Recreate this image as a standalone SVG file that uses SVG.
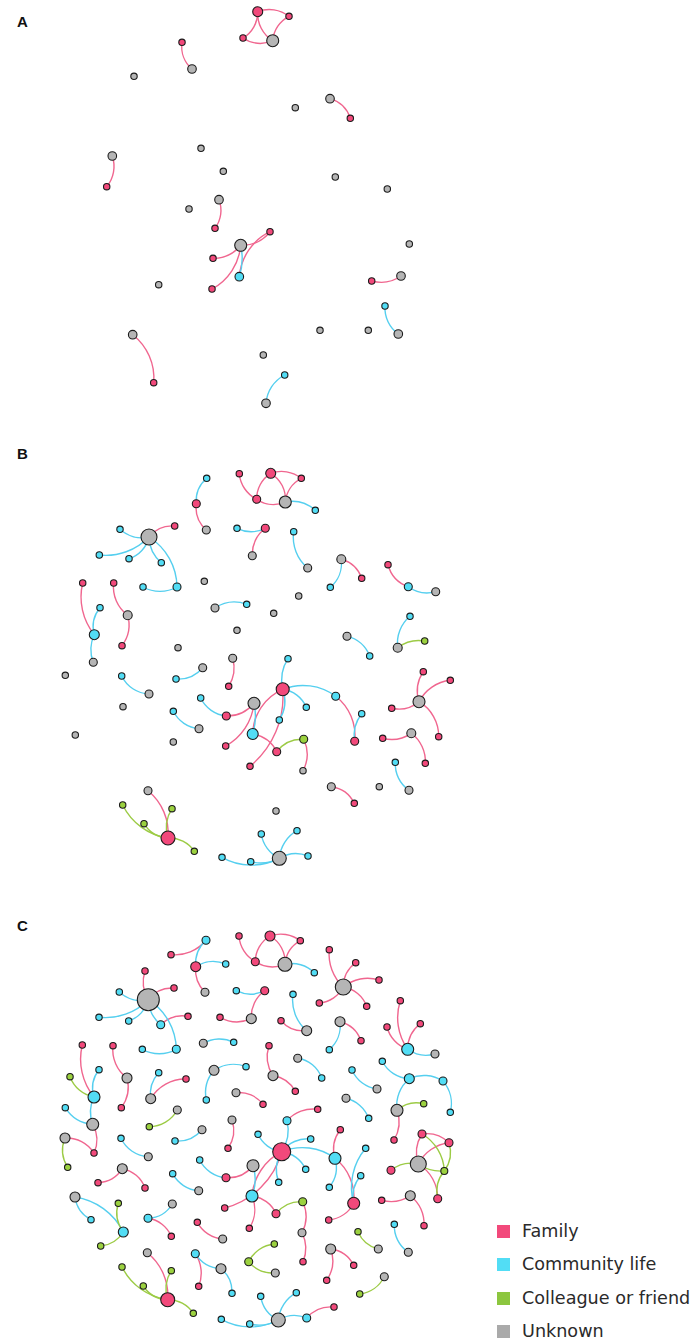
<svg xmlns="http://www.w3.org/2000/svg" width="692" height="1339" viewBox="0 0 692 1339">
<style>
.n{stroke:#1b1b1b;stroke-width:1.1}
.f{fill:#F2497B}.c{fill:#52DDF5}.g{fill:#9BD13F}.u{fill:#B5B5B5}
#edges path{fill:none;stroke-width:1.4}
.ef path{stroke:#F0668F}.ec path{stroke:#55CFEF}.eg path{stroke:#9CCB45}
.lab{font-family:"Liberation Sans",Arial,sans-serif;font-weight:bold;font-size:15px;fill:#111}
.lt{font-family:"DejaVu Sans","Liberation Sans",sans-serif;font-size:17.6px;fill:#2a2a2a}
</style>
<rect width="692" height="1339" fill="#fff"/>
<text class="lab" x="17" y="27">A</text>
<text class="lab" x="17" y="459">B</text>
<text class="lab" x="17" y="931">C</text>
<g id="edges">
<g class="ef">
<path d="M257.7 11.7A32 32 0 0 1 289 16.3"/>
<path d="M289 16.3A30 30 0 0 0 272.7 40.7"/>
<path d="M257.7 11.7A30 30 0 0 1 243 38"/>
<path d="M257.7 11.7A32 32 0 0 0 272.7 40.7"/>
<path d="M243 38A30 30 0 0 0 272.7 40.7"/>
<path d="M182 42.3A30 30 0 0 0 192 69"/>
<path d="M330 98.7A30 30 0 0 1 350.3 118.3"/>
<path d="M112.3 156A32 32 0 0 1 106.7 186.7"/>
<path d="M219 199.7A30 30 0 0 1 215 228.3"/>
<path d="M240.7 245.3A35 35 0 0 0 270 231.7"/>
<path d="M240.7 245.3A35 35 0 0 1 213 258.3"/>
<path d="M270 231.7A55 55 0 0 0 239.3 276.7"/>
<path d="M240.7 245.3A55 55 0 0 1 212 289"/>
<path d="M401 276A35 35 0 0 1 371.7 281"/>
<path d="M132.7 334.7A55 55 0 0 1 153.7 382.7"/>
<path d="M196.3 503.7A30 30 0 0 0 206.3 530"/>
<path d="M239.3 473.7A32 32 0 0 0 256.7 499.3"/>
<path d="M270.7 473.3A32 32 0 0 1 301.3 478.3"/>
<path d="M270.7 473.3A30 30 0 0 0 256.7 499.3"/>
<path d="M270.7 473.3A30 30 0 0 1 285.3 502"/>
<path d="M256.7 499.3A30 30 0 0 0 285.3 502"/>
<path d="M301.3 478.3A30 30 0 0 0 285.3 502"/>
<path d="M265.3 528.3A32 32 0 0 0 252.3 555.7"/>
<path d="M149 537A30 30 0 0 1 174.7 526"/>
<path d="M82.7 583A60 60 0 0 0 94.3 634.7"/>
<path d="M113.7 583A35 35 0 0 0 127.7 615.3"/>
<path d="M127.7 615.3A35 35 0 0 1 122 645.7"/>
<path d="M232.7 658.3A35 35 0 0 1 228.7 686.3"/>
<path d="M341.3 559.3A30 30 0 0 1 361.7 578.3"/>
<path d="M388 564.7A32 32 0 0 0 408.3 586.7"/>
<path d="M226.3 716A35 35 0 0 0 254 703.3"/>
<path d="M254 703.3A55 55 0 0 1 225.7 746"/>
<path d="M282.7 689.3A90 90 0 0 1 250 766.3"/>
<path d="M282.7 689.3A50 50 0 0 0 252.7 734"/>
<path d="M335.7 696.3A50 50 0 0 1 354.7 741.3"/>
<path d="M252.7 734A32 32 0 0 1 276.7 751.7"/>
<path d="M303.7 739.3A35 35 0 0 1 303 770.7"/>
<path d="M419 701.7A35 35 0 0 1 423.3 671.7"/>
<path d="M419 701.7A40 40 0 0 1 450.3 680.3"/>
<path d="M419 701.7A32 32 0 0 1 391.7 708.3"/>
<path d="M419 701.7A40 40 0 0 1 438.7 736.7"/>
<path d="M411.3 733.3A35 35 0 0 1 382.7 738.3"/>
<path d="M411.3 733.3A35 35 0 0 1 425.3 763.3"/>
<path d="M331.3 786.7A30 30 0 0 1 354.3 803.3"/>
<path d="M148 790.7A55 55 0 0 1 168 838"/>
<path d="M171 954.7A40 40 0 0 0 206 940.3"/>
<path d="M195.7 966.7A32 32 0 0 0 205 992.3"/>
<path d="M148.3 999.7A35 35 0 0 1 145 971"/>
<path d="M148.3 999.7A30 30 0 0 1 174 988"/>
<path d="M160.7 1024.7A32 32 0 0 1 188 1016.3"/>
<path d="M82.3 1045A60 60 0 0 0 94 1097"/>
<path d="M113 1045.7A35 35 0 0 0 127 1078"/>
<path d="M127 1078A35 35 0 0 1 121.3 1107.7"/>
<path d="M150.7 1098.7A40 40 0 0 1 186 1079"/>
<path d="M239 936A32 32 0 0 0 255.3 961.7"/>
<path d="M270 936A32 32 0 0 1 300.3 940.7"/>
<path d="M270 936A30 30 0 0 0 255.3 961.7"/>
<path d="M270 936A30 30 0 0 1 285 964.3"/>
<path d="M300.3 940.7A30 30 0 0 0 285 964.3"/>
<path d="M255.3 961.7A32 32 0 0 0 285 964.3"/>
<path d="M264.7 990.7A32 32 0 0 0 251.3 1018.7"/>
<path d="M220 1017.3A35 35 0 0 0 251.3 1018.7"/>
<path d="M281 1020.7A30 30 0 0 0 306.7 1030.7"/>
<path d="M343.3 987A45 45 0 0 1 329.3 949.7"/>
<path d="M343.3 987A30 30 0 0 1 355.7 962.7"/>
<path d="M343.3 987A38 38 0 0 1 379 980"/>
<path d="M343.3 987A30 30 0 0 1 366.7 1006.3"/>
<path d="M343.3 987A30 30 0 0 1 319.3 1003"/>
<path d="M269 1045.7A35 35 0 0 0 273 1075.7"/>
<path d="M273 1075.7A30 30 0 0 1 295.3 1091.3"/>
<path d="M236 1092.7A30 30 0 0 1 263 1104.3"/>
<path d="M287 1120.7A35 35 0 0 1 317.7 1109.3"/>
<path d="M340 1021.7A30 30 0 0 1 361 1040.7"/>
<path d="M400.3 1000.7A55 55 0 0 0 407.7 1049.3"/>
<path d="M387 1027A32 32 0 0 0 407.7 1049.3"/>
<path d="M420.3 1023.7A32 32 0 0 0 407.7 1049.3"/>
<path d="M397 1110.3A35 35 0 0 1 394 1140"/>
<path d="M65 1138A32 32 0 0 1 94 1153"/>
<path d="M92.7 1124.3A32 32 0 0 1 94 1153"/>
<path d="M122.3 1168.7A30 30 0 0 1 98 1182.7"/>
<path d="M122.3 1168.7A30 30 0 0 1 145 1188"/>
<path d="M148 1218.3A30 30 0 0 1 171.3 1236.3"/>
<path d="M147.3 1252.7A55 55 0 0 1 167.7 1299.7"/>
<path d="M232 1120A32 32 0 0 1 228 1148.3"/>
<path d="M226 1177.7A32 32 0 0 0 253 1165.7"/>
<path d="M281.7 1151.7A80 80 0 0 1 224.7 1208"/>
<path d="M281.7 1151.7A55 55 0 0 0 252 1196"/>
<path d="M252 1196A35 35 0 0 1 249.3 1228.3"/>
<path d="M252 1196A30 30 0 0 1 276 1213.7"/>
<path d="M302.7 1201.7A35 35 0 0 1 302 1232.7"/>
<path d="M302 1232.7A35 35 0 0 1 303 1261.7"/>
<path d="M197.3 1222.3A32 32 0 0 0 222.7 1239"/>
<path d="M195.3 1253.7A35 35 0 0 1 198.7 1286.3"/>
<path d="M306.7 1318A32 32 0 0 1 334 1307"/>
<path d="M340.3 1129.7A32 32 0 0 0 335 1158.3"/>
<path d="M335 1158.3A50 50 0 0 1 353.7 1203.3"/>
<path d="M353.7 1203.3A32 32 0 0 1 328.7 1220"/>
<path d="M422 1134A35 35 0 0 0 418.3 1164"/>
<path d="M422 1134A32 32 0 0 1 449 1142.7"/>
<path d="M449 1142.7A40 40 0 0 0 418.3 1164"/>
<path d="M418.3 1164A40 40 0 0 1 437.7 1198.7"/>
<path d="M410.3 1195.7A35 35 0 0 1 381.7 1200.3"/>
<path d="M410.3 1195.7A35 35 0 0 1 424 1225.7"/>
<path d="M330.7 1249A30 30 0 0 1 353.7 1265.3"/>
<path d="M330.7 1249A35 35 0 0 1 326.7 1280.3"/>
</g>
<g class="ec">
<path d="M240.7 245.3A60 60 0 0 1 239.3 276.7"/>
<path d="M385 306A32 32 0 0 0 398.3 334"/>
<path d="M284.7 375A35 35 0 0 0 266 403.3"/>
<path d="M206.7 478.3A30 30 0 0 0 196.3 503.7"/>
<path d="M285.3 502A35 35 0 0 1 315.3 510.3"/>
<path d="M237 528.3A32 32 0 0 0 265.3 528.3"/>
<path d="M149 537A32 32 0 0 1 120 529.3"/>
<path d="M149 537A60 60 0 0 1 99.3 555"/>
<path d="M149 537A30 30 0 0 1 129 558.7"/>
<path d="M149 537A35 35 0 0 0 161.3 562.7"/>
<path d="M149 537A60 60 0 0 1 177 587"/>
<path d="M143 587A35 35 0 0 0 177 587"/>
<path d="M100 607.7A30 30 0 0 0 94.3 634.7"/>
<path d="M94.3 634.7A35 35 0 0 0 93.3 662.3"/>
<path d="M215 608A35 35 0 0 1 246.7 604.3"/>
<path d="M293.7 531.7A40 40 0 0 0 307.7 568"/>
<path d="M341.3 559.3A32 32 0 0 1 330.3 587.3"/>
<path d="M408.3 586.7A32 32 0 0 0 435.7 591.7"/>
<path d="M347 636.3A32 32 0 0 1 369.7 656"/>
<path d="M410 616.3A35 35 0 0 0 397.7 647.7"/>
<path d="M288 658.7A40 40 0 0 0 282.7 689.3"/>
<path d="M121.7 676A32 32 0 0 0 149 694"/>
<path d="M202.7 667.7A32 32 0 0 1 176 679"/>
<path d="M200.7 698A32 32 0 0 0 226.3 716"/>
<path d="M173.3 711.3A32 32 0 0 0 199 728.7"/>
<path d="M254 703.3A60 60 0 0 1 252.7 734"/>
<path d="M282.7 689.3A55 55 0 0 1 335.7 696.3"/>
<path d="M282.7 689.3A30 30 0 0 1 306.3 707.3"/>
<path d="M282.7 689.3A35 35 0 0 1 279.3 720"/>
<path d="M361.7 713.7A35 35 0 0 0 354.7 741.3"/>
<path d="M395.3 762.3A32 32 0 0 0 409 790.3"/>
<path d="M261.3 834A32 32 0 0 0 279.3 858.3"/>
<path d="M297 830.7A35 35 0 0 0 279.3 858.3"/>
<path d="M279.3 858.3A32 32 0 0 1 308 856"/>
<path d="M222 857.3A60 60 0 0 0 279.3 858.3"/>
<path d="M250.7 861.7A40 40 0 0 0 279.3 858.3"/>
<path d="M206 940.3A32 32 0 0 0 195.7 966.7"/>
<path d="M195.7 966.7A32 32 0 0 1 225.7 964"/>
<path d="M148.3 999.7A32 32 0 0 1 119.3 992"/>
<path d="M148.3 999.7A60 60 0 0 1 99 1017.3"/>
<path d="M148.3 999.7A30 30 0 0 1 128.7 1021"/>
<path d="M148.3 999.7A35 35 0 0 0 160.7 1024.7"/>
<path d="M148.3 999.7A60 60 0 0 1 176.3 1049.3"/>
<path d="M142.3 1049.3A35 35 0 0 0 176.3 1049.3"/>
<path d="M99 1069.7A30 30 0 0 0 94 1097"/>
<path d="M94 1097A35 35 0 0 0 92.7 1124.3"/>
<path d="M65.3 1107.7A35 35 0 0 0 92.7 1124.3"/>
<path d="M158.7 1072.7A32 32 0 0 0 150.7 1098.7"/>
<path d="M285 964.3A32 32 0 0 1 314.3 972.7"/>
<path d="M236.3 990.7A32 32 0 0 0 264.7 990.7"/>
<path d="M293 994.3A40 40 0 0 0 306.7 1030.7"/>
<path d="M203.3 1043.3A32 32 0 0 1 233.7 1042.3"/>
<path d="M297.7 1058.3A30 30 0 0 1 321.7 1078"/>
<path d="M214 1070.3A35 35 0 0 1 246 1066.7"/>
<path d="M214 1070.3A35 35 0 0 0 206.3 1100"/>
<path d="M340 1021.7A32 32 0 0 1 329.3 1049.7"/>
<path d="M407.7 1049.3A32 32 0 0 0 435 1054"/>
<path d="M382.3 1061.3A32 32 0 0 0 409.3 1078.7"/>
<path d="M409.3 1078.7A35 35 0 0 1 443 1081"/>
<path d="M443 1081A35 35 0 0 1 450.3 1112.3"/>
<path d="M409.3 1078.7A35 35 0 0 0 397 1110.3"/>
<path d="M352 1070A32 32 0 0 0 377 1089"/>
<path d="M346 1098.3A32 32 0 0 1 368.7 1118.3"/>
<path d="M121 1138.3A32 32 0 0 0 148.3 1156.7"/>
<path d="M175 1141A32 32 0 0 0 202 1129.7"/>
<path d="M172.7 1173.7A32 32 0 0 0 198.7 1190.7"/>
<path d="M75 1197A30 30 0 0 0 91 1219.7"/>
<path d="M75 1197A65 65 0 0 1 123.3 1232"/>
<path d="M172.3 1204A30 30 0 0 1 148 1218.3"/>
<path d="M258 1134.3A30 30 0 0 0 281.7 1151.7"/>
<path d="M310.7 1139A32 32 0 0 0 281.7 1151.7"/>
<path d="M305.7 1169.3A30 30 0 0 0 281.7 1151.7"/>
<path d="M278.7 1182.3A35 35 0 0 1 281.7 1151.7"/>
<path d="M287 1120.7A40 40 0 0 1 281.7 1151.7"/>
<path d="M281.7 1151.7A55 55 0 0 1 335 1158.3"/>
<path d="M199.7 1160A32 32 0 0 0 226 1177.7"/>
<path d="M253 1165.7A45 45 0 0 1 252 1196"/>
<path d="M195.3 1253.7A32 32 0 0 0 221 1268.7"/>
<path d="M221 1268.7A30 30 0 0 1 232 1293.3"/>
<path d="M260.7 1296.3A32 32 0 0 0 278.3 1320"/>
<path d="M296.3 1292.7A35 35 0 0 0 278.3 1320"/>
<path d="M278.3 1320A32 32 0 0 1 306.7 1318"/>
<path d="M221.3 1319.3A60 60 0 0 0 278.3 1320"/>
<path d="M249.7 1324A40 40 0 0 0 278.3 1320"/>
<path d="M365.7 1148.3A60 60 0 0 0 353.7 1203.3"/>
<path d="M360.7 1175.7A32 32 0 0 0 353.7 1203.3"/>
<path d="M329.3 1187.3A32 32 0 0 0 335 1158.3"/>
<path d="M394.3 1224.3A32 32 0 0 0 408.3 1252.3"/>
</g>
<g class="eg">
<path d="M397.7 647.7A35 35 0 0 1 424.7 641"/>
<path d="M276.7 751.7A32 32 0 0 1 303.7 739.3"/>
<path d="M122.7 805A60 60 0 0 0 168 838"/>
<path d="M172 808.7A35 35 0 0 0 168 838"/>
<path d="M144 823.7A30 30 0 0 0 168 838"/>
<path d="M168 838A30 30 0 0 1 194.3 851.3"/>
<path d="M70 1076.7A32 32 0 0 0 94 1097"/>
<path d="M177.3 1110A32 32 0 0 1 149.3 1126.7"/>
<path d="M397 1110.3A30 30 0 0 1 423.7 1103.7"/>
<path d="M65 1138A32 32 0 0 0 67.7 1167.3"/>
<path d="M118.3 1203.3A32 32 0 0 0 123.3 1232"/>
<path d="M123.3 1232A30 30 0 0 1 100.7 1246"/>
<path d="M122 1267A60 60 0 0 0 167.7 1299.7"/>
<path d="M171.3 1270.7A35 35 0 0 0 167.7 1299.7"/>
<path d="M143.3 1286A30 30 0 0 0 167.7 1299.7"/>
<path d="M167.7 1299.7A30 30 0 0 1 193.3 1313.3"/>
<path d="M276 1213.7A32 32 0 0 1 302.7 1201.7"/>
<path d="M274.3 1244A32 32 0 0 0 248.7 1261.7"/>
<path d="M248.7 1261.7A32 32 0 0 0 275.3 1273"/>
<path d="M418.3 1164A32 32 0 0 0 391 1170.3"/>
<path d="M418.3 1164A40 40 0 0 0 444.3 1171"/>
<path d="M422 1134A45 45 0 0 1 444.3 1171"/>
<path d="M449 1142.7A32 32 0 0 1 444.3 1171"/>
<path d="M444.3 1171A32 32 0 0 0 437.7 1198.7"/>
<path d="M358 1231.7A30 30 0 0 0 378.3 1249"/>
<path d="M384.3 1276.7A32 32 0 0 1 359.7 1294"/>
</g>
</g>
<g id="nodesA">
<g id="a1"><circle class="n f" cx="257.7" cy="11.7" r="5"/></g>
<g id="a2"><circle class="n f" cx="289" cy="16.3" r="3.2"/></g>
<g id="a3"><circle class="n f" cx="243" cy="38" r="3.2"/></g>
<g id="a4"><circle class="n u" cx="272.7" cy="40.7" r="6"/></g>
<g id="a5"><circle class="n f" cx="182" cy="42.3" r="3.2"/></g>
<g id="a6"><circle class="n u" cx="192" cy="69" r="4.3"/></g>
<g id="a7"><circle class="n u" cx="134" cy="76.3" r="3.2"/></g>
<g id="a8"><circle class="n u" cx="330" cy="98.7" r="4.3"/></g>
<g id="a9"><circle class="n f" cx="350.3" cy="118.3" r="3.2"/></g>
<g id="a10"><circle class="n u" cx="295.3" cy="107.7" r="3.2"/></g>
<g id="a11"><circle class="n u" cx="112.3" cy="156" r="4.3"/></g>
<g id="a12"><circle class="n f" cx="106.7" cy="186.7" r="3.2"/></g>
<g id="a13"><circle class="n u" cx="201" cy="148.3" r="3.2"/></g>
<g id="a14"><circle class="n u" cx="223.3" cy="171.3" r="3.2"/></g>
<g id="a15"><circle class="n u" cx="335.3" cy="177" r="3.2"/></g>
<g id="a16"><circle class="n u" cx="387.3" cy="189" r="3.2"/></g>
<g id="a17"><circle class="n u" cx="219" cy="199.7" r="4.3"/></g>
<g id="a18"><circle class="n f" cx="215" cy="228.3" r="3.2"/></g>
<g id="a19"><circle class="n u" cx="189" cy="209" r="3.2"/></g>
<g id="a20"><circle class="n u" cx="240.7" cy="245.3" r="6"/></g>
<g id="a21"><circle class="n f" cx="270" cy="231.7" r="3.2"/></g>
<g id="a22"><circle class="n f" cx="213" cy="258.3" r="3.2"/></g>
<g id="a23"><circle class="n c" cx="239.3" cy="276.7" r="4.3"/></g>
<g id="a24"><circle class="n f" cx="212" cy="289" r="3.2"/></g>
<g id="a25"><circle class="n u" cx="158.7" cy="284.7" r="3.2"/></g>
<g id="a26"><circle class="n u" cx="409.3" cy="244" r="3.2"/></g>
<g id="a27"><circle class="n f" cx="371.7" cy="281" r="3.2"/></g>
<g id="a28"><circle class="n u" cx="401" cy="276" r="4.3"/></g>
<g id="a29"><circle class="n c" cx="385" cy="306" r="3.2"/></g>
<g id="a30"><circle class="n u" cx="398.3" cy="334" r="4.3"/></g>
<g id="a31"><circle class="n u" cx="320" cy="330.3" r="3.2"/></g>
<g id="a32"><circle class="n u" cx="368.3" cy="330.3" r="3.2"/></g>
<g id="a33"><circle class="n u" cx="132.7" cy="334.7" r="4.3"/></g>
<g id="a34"><circle class="n f" cx="153.7" cy="382.7" r="3.2"/></g>
<g id="a35"><circle class="n u" cx="263.3" cy="355" r="3.2"/></g>
<g id="a36"><circle class="n c" cx="284.7" cy="375" r="3.2"/></g>
<g id="a37"><circle class="n u" cx="266" cy="403.3" r="4.3"/></g>
</g>
<g id="nodesB">
<g id="b1"><circle class="n c" cx="206.7" cy="478.3" r="3.2"/></g>
<g id="b2"><circle class="n f" cx="196.3" cy="503.7" r="4"/></g>
<g id="b3"><circle class="n u" cx="206.3" cy="530" r="4"/></g>
<g id="b4"><circle class="n f" cx="239.3" cy="473.7" r="3.2"/></g>
<g id="b5"><circle class="n f" cx="270.7" cy="473.3" r="5"/></g>
<g id="b6"><circle class="n f" cx="301.3" cy="478.3" r="3.2"/></g>
<g id="b7"><circle class="n f" cx="256.7" cy="499.3" r="4"/></g>
<g id="b8"><circle class="n u" cx="285.3" cy="502" r="6"/></g>
<g id="b9"><circle class="n c" cx="315.3" cy="510.3" r="3.2"/></g>
<g id="b10"><circle class="n c" cx="237" cy="528.3" r="3.2"/></g>
<g id="b11"><circle class="n f" cx="265.3" cy="528.3" r="4"/></g>
<g id="b12"><circle class="n u" cx="252.3" cy="555.7" r="4"/></g>
<g id="b13"><circle class="n u" cx="149" cy="537" r="8"/></g>
<g id="b14"><circle class="n f" cx="174.7" cy="526" r="3.2"/></g>
<g id="b15"><circle class="n c" cx="120" cy="529.3" r="3.2"/></g>
<g id="b16"><circle class="n c" cx="99.3" cy="555" r="3.2"/></g>
<g id="b17"><circle class="n c" cx="129" cy="558.7" r="3.2"/></g>
<g id="b18"><circle class="n c" cx="161.3" cy="562.7" r="3.2"/></g>
<g id="b19"><circle class="n c" cx="177" cy="587" r="4"/></g>
<g id="b20"><circle class="n c" cx="143" cy="587" r="3.2"/></g>
<g id="b21"><circle class="n f" cx="82.7" cy="583" r="3.2"/></g>
<g id="b22"><circle class="n c" cx="100" cy="607.7" r="3.2"/></g>
<g id="b23"><circle class="n c" cx="94.3" cy="634.7" r="5"/></g>
<g id="b24"><circle class="n u" cx="93.3" cy="662.3" r="4"/></g>
<g id="b25"><circle class="n f" cx="113.7" cy="583" r="3.2"/></g>
<g id="b26"><circle class="n u" cx="127.7" cy="615.3" r="4.5"/></g>
<g id="b27"><circle class="n f" cx="122" cy="645.7" r="3.2"/></g>
<g id="b28"><circle class="n u" cx="204.3" cy="581.3" r="3.2"/></g>
<g id="b29"><circle class="n u" cx="215" cy="608" r="4"/></g>
<g id="b30"><circle class="n c" cx="246.7" cy="604.3" r="3.2"/></g>
<g id="b31"><circle class="n u" cx="237" cy="630.3" r="3.2"/></g>
<g id="b32"><circle class="n u" cx="178" cy="647.7" r="3.2"/></g>
<g id="b33"><circle class="n u" cx="232.7" cy="658.3" r="4"/></g>
<g id="b34"><circle class="n f" cx="228.7" cy="686.3" r="3.2"/></g>
<g id="b35"><circle class="n c" cx="293.7" cy="531.7" r="3.2"/></g>
<g id="b36"><circle class="n u" cx="307.7" cy="568" r="4"/></g>
<g id="b37"><circle class="n u" cx="341.3" cy="559.3" r="4.5"/></g>
<g id="b38"><circle class="n f" cx="361.7" cy="578.3" r="3.2"/></g>
<g id="b39"><circle class="n c" cx="330.3" cy="587.3" r="3.2"/></g>
<g id="b40"><circle class="n f" cx="388" cy="564.7" r="3.2"/></g>
<g id="b41"><circle class="n c" cx="408.3" cy="586.7" r="4"/></g>
<g id="b42"><circle class="n u" cx="435.7" cy="591.7" r="4"/></g>
<g id="b43"><circle class="n u" cx="298.7" cy="596" r="3.2"/></g>
<g id="b44"><circle class="n u" cx="273.7" cy="613.3" r="3.2"/></g>
<g id="b45"><circle class="n u" cx="347" cy="636.3" r="4"/></g>
<g id="b46"><circle class="n c" cx="369.7" cy="656" r="3.2"/></g>
<g id="b47"><circle class="n c" cx="410" cy="616.3" r="3.2"/></g>
<g id="b48"><circle class="n u" cx="397.7" cy="647.7" r="4.5"/></g>
<g id="b49"><circle class="n g" cx="424.7" cy="641" r="3.2"/></g>
<g id="b50"><circle class="n c" cx="288" cy="658.7" r="3.2"/></g>
<g id="b51"><circle class="n u" cx="65.3" cy="675.3" r="3.2"/></g>
<g id="b52"><circle class="n c" cx="121.7" cy="676" r="3.2"/></g>
<g id="b53"><circle class="n u" cx="149" cy="694" r="4"/></g>
<g id="b54"><circle class="n u" cx="202.7" cy="667.7" r="4"/></g>
<g id="b55"><circle class="n c" cx="176" cy="679" r="3.2"/></g>
<g id="b56"><circle class="n u" cx="123" cy="706.7" r="3.2"/></g>
<g id="b57"><circle class="n c" cx="200.7" cy="698" r="3.2"/></g>
<g id="b58"><circle class="n f" cx="226.3" cy="716" r="4"/></g>
<g id="b59"><circle class="n u" cx="254" cy="703.3" r="6"/></g>
<g id="b60"><circle class="n c" cx="173.3" cy="711.3" r="3.2"/></g>
<g id="b61"><circle class="n u" cx="199" cy="728.7" r="4"/></g>
<g id="b62"><circle class="n u" cx="75.3" cy="735" r="3.2"/></g>
<g id="b63"><circle class="n u" cx="173.3" cy="742" r="3.2"/></g>
<g id="b64"><circle class="n c" cx="252.7" cy="734" r="5.5"/></g>
<g id="b65"><circle class="n f" cx="225.7" cy="746" r="3.2"/></g>
<g id="b66"><circle class="n f" cx="250" cy="766.3" r="3.2"/></g>
<g id="b67"><circle class="n f" cx="282.7" cy="689.3" r="6.5"/></g>
<g id="b68"><circle class="n c" cx="335.7" cy="696.3" r="4"/></g>
<g id="b69"><circle class="n c" cx="306.3" cy="707.3" r="3.2"/></g>
<g id="b70"><circle class="n c" cx="279.3" cy="720" r="3.2"/></g>
<g id="b71"><circle class="n f" cx="354.7" cy="741.3" r="4"/></g>
<g id="b72"><circle class="n c" cx="361.7" cy="713.7" r="3.2"/></g>
<g id="b73"><circle class="n f" cx="276.7" cy="751.7" r="4"/></g>
<g id="b74"><circle class="n g" cx="303.7" cy="739.3" r="4"/></g>
<g id="b75"><circle class="n u" cx="303" cy="770.7" r="3.2"/></g>
<g id="b76"><circle class="n f" cx="423.3" cy="671.7" r="3.2"/></g>
<g id="b77"><circle class="n f" cx="450.3" cy="680.3" r="3.2"/></g>
<g id="b78"><circle class="n u" cx="419" cy="701.7" r="6"/></g>
<g id="b79"><circle class="n f" cx="391.7" cy="708.3" r="3.2"/></g>
<g id="b80"><circle class="n f" cx="438.7" cy="736.7" r="3.2"/></g>
<g id="b81"><circle class="n u" cx="411.3" cy="733.3" r="4.5"/></g>
<g id="b82"><circle class="n f" cx="382.7" cy="738.3" r="3.2"/></g>
<g id="b83"><circle class="n f" cx="425.3" cy="763.3" r="3.2"/></g>
<g id="b84"><circle class="n c" cx="395.3" cy="762.3" r="3.2"/></g>
<g id="b85"><circle class="n u" cx="409" cy="790.3" r="4"/></g>
<g id="b86"><circle class="n u" cx="331.3" cy="786.7" r="4"/></g>
<g id="b87"><circle class="n f" cx="354.3" cy="803.3" r="3.2"/></g>
<g id="b88"><circle class="n u" cx="379.3" cy="786.7" r="3.2"/></g>
<g id="b89"><circle class="n u" cx="276" cy="811" r="3.2"/></g>
<g id="b90"><circle class="n u" cx="148" cy="790.7" r="4"/></g>
<g id="b91"><circle class="n g" cx="122.7" cy="805" r="3.2"/></g>
<g id="b92"><circle class="n g" cx="172" cy="808.7" r="3.2"/></g>
<g id="b93"><circle class="n g" cx="144" cy="823.7" r="3.2"/></g>
<g id="b94"><circle class="n f" cx="168" cy="838" r="7"/></g>
<g id="b95"><circle class="n g" cx="194.3" cy="851.3" r="3.2"/></g>
<g id="b96"><circle class="n c" cx="261.3" cy="834" r="3.2"/></g>
<g id="b97"><circle class="n c" cx="297" cy="830.7" r="3.2"/></g>
<g id="b98"><circle class="n u" cx="279.3" cy="858.3" r="7"/></g>
<g id="b99"><circle class="n c" cx="308" cy="856" r="3.2"/></g>
<g id="b100"><circle class="n c" cx="222" cy="857.3" r="3.2"/></g>
<g id="b101"><circle class="n c" cx="250.7" cy="861.7" r="3.2"/></g>
</g>
<g id="nodesC">
<g id="c1"><circle class="n f" cx="171" cy="954.7" r="3.2"/></g>
<g id="c2"><circle class="n c" cx="206" cy="940.3" r="4"/></g>
<g id="c3"><circle class="n f" cx="195.7" cy="966.7" r="5"/></g>
<g id="c4"><circle class="n c" cx="225.7" cy="964" r="3.2"/></g>
<g id="c5"><circle class="n u" cx="205" cy="992.3" r="4"/></g>
<g id="c6"><circle class="n f" cx="145" cy="971" r="3.2"/></g>
<g id="c7"><circle class="n f" cx="174" cy="988" r="3.2"/></g>
<g id="c8"><circle class="n c" cx="119.3" cy="992" r="3.2"/></g>
<g id="c9"><circle class="n u" cx="148.3" cy="999.7" r="11"/></g>
<g id="c10"><circle class="n c" cx="99" cy="1017.3" r="3.2"/></g>
<g id="c11"><circle class="n c" cx="128.7" cy="1021" r="3.2"/></g>
<g id="c12"><circle class="n c" cx="160.7" cy="1024.7" r="4"/></g>
<g id="c13"><circle class="n f" cx="188" cy="1016.3" r="3.2"/></g>
<g id="c14"><circle class="n c" cx="176.3" cy="1049.3" r="4"/></g>
<g id="c15"><circle class="n c" cx="142.3" cy="1049.3" r="3.2"/></g>
<g id="c16"><circle class="n f" cx="82.3" cy="1045" r="3.2"/></g>
<g id="c17"><circle class="n g" cx="70" cy="1076.7" r="3.2"/></g>
<g id="c18"><circle class="n c" cx="99" cy="1069.7" r="3.2"/></g>
<g id="c19"><circle class="n c" cx="94" cy="1097" r="6"/></g>
<g id="c20"><circle class="n c" cx="65.3" cy="1107.7" r="3.2"/></g>
<g id="c21"><circle class="n u" cx="92.7" cy="1124.3" r="6"/></g>
<g id="c22"><circle class="n f" cx="113" cy="1045.7" r="3.2"/></g>
<g id="c23"><circle class="n u" cx="127" cy="1078" r="5"/></g>
<g id="c24"><circle class="n f" cx="121.3" cy="1107.7" r="3.2"/></g>
<g id="c25"><circle class="n c" cx="158.7" cy="1072.7" r="3.2"/></g>
<g id="c26"><circle class="n u" cx="150.7" cy="1098.7" r="5"/></g>
<g id="c27"><circle class="n f" cx="186" cy="1079" r="3.2"/></g>
<g id="c28"><circle class="n u" cx="177.3" cy="1110" r="4"/></g>
<g id="c29"><circle class="n g" cx="149.3" cy="1126.7" r="3.2"/></g>
<g id="c30"><circle class="n f" cx="239" cy="936" r="3.2"/></g>
<g id="c31"><circle class="n f" cx="270" cy="936" r="5"/></g>
<g id="c32"><circle class="n f" cx="300.3" cy="940.7" r="3.2"/></g>
<g id="c33"><circle class="n f" cx="255.3" cy="961.7" r="4"/></g>
<g id="c34"><circle class="n u" cx="285" cy="964.3" r="7"/></g>
<g id="c35"><circle class="n c" cx="314.3" cy="972.7" r="3.2"/></g>
<g id="c36"><circle class="n c" cx="236.3" cy="990.7" r="3.2"/></g>
<g id="c37"><circle class="n f" cx="264.7" cy="990.7" r="4"/></g>
<g id="c38"><circle class="n u" cx="251.3" cy="1018.7" r="5"/></g>
<g id="c39"><circle class="n f" cx="220" cy="1017.3" r="3.2"/></g>
<g id="c40"><circle class="n c" cx="293" cy="994.3" r="3.2"/></g>
<g id="c41"><circle class="n u" cx="306.7" cy="1030.7" r="5"/></g>
<g id="c42"><circle class="n f" cx="281" cy="1020.7" r="3.2"/></g>
<g id="c43"><circle class="n f" cx="319.3" cy="1003" r="3.2"/></g>
<g id="c44"><circle class="n u" cx="343.3" cy="987" r="8"/></g>
<g id="c45"><circle class="n f" cx="329.3" cy="949.7" r="3.2"/></g>
<g id="c46"><circle class="n f" cx="355.7" cy="962.7" r="3.2"/></g>
<g id="c47"><circle class="n f" cx="379" cy="980" r="3.2"/></g>
<g id="c48"><circle class="n f" cx="366.7" cy="1006.3" r="3.2"/></g>
<g id="c49"><circle class="n u" cx="203.3" cy="1043.3" r="4"/></g>
<g id="c50"><circle class="n c" cx="233.7" cy="1042.3" r="3.2"/></g>
<g id="c51"><circle class="n f" cx="269" cy="1045.7" r="3.2"/></g>
<g id="c52"><circle class="n u" cx="273" cy="1075.7" r="5"/></g>
<g id="c53"><circle class="n f" cx="295.3" cy="1091.3" r="3.2"/></g>
<g id="c54"><circle class="n u" cx="297.7" cy="1058.3" r="4"/></g>
<g id="c55"><circle class="n c" cx="321.7" cy="1078" r="3.2"/></g>
<g id="c56"><circle class="n u" cx="214" cy="1070.3" r="5"/></g>
<g id="c57"><circle class="n c" cx="246" cy="1066.7" r="3.2"/></g>
<g id="c58"><circle class="n c" cx="206.3" cy="1100" r="3.2"/></g>
<g id="c59"><circle class="n u" cx="236" cy="1092.7" r="4"/></g>
<g id="c60"><circle class="n f" cx="263" cy="1104.3" r="3.2"/></g>
<g id="c61"><circle class="n u" cx="232" cy="1120" r="4"/></g>
<g id="c62"><circle class="n c" cx="287" cy="1120.7" r="4"/></g>
<g id="c63"><circle class="n f" cx="317.7" cy="1109.3" r="3.2"/></g>
<g id="c64"><circle class="n u" cx="340" cy="1021.7" r="5"/></g>
<g id="c65"><circle class="n f" cx="361" cy="1040.7" r="3.2"/></g>
<g id="c66"><circle class="n c" cx="329.3" cy="1049.7" r="3.2"/></g>
<g id="c67"><circle class="n f" cx="400.3" cy="1000.7" r="3.2"/></g>
<g id="c68"><circle class="n f" cx="387" cy="1027" r="3.2"/></g>
<g id="c69"><circle class="n f" cx="420.3" cy="1023.7" r="3.2"/></g>
<g id="c70"><circle class="n c" cx="407.7" cy="1049.3" r="6"/></g>
<g id="c71"><circle class="n u" cx="435" cy="1054" r="4"/></g>
<g id="c72"><circle class="n c" cx="382.3" cy="1061.3" r="3.2"/></g>
<g id="c73"><circle class="n c" cx="409.3" cy="1078.7" r="5"/></g>
<g id="c74"><circle class="n c" cx="443" cy="1081" r="4"/></g>
<g id="c75"><circle class="n c" cx="450.3" cy="1112.3" r="3.2"/></g>
<g id="c76"><circle class="n u" cx="397" cy="1110.3" r="6"/></g>
<g id="c77"><circle class="n g" cx="423.7" cy="1103.7" r="3.2"/></g>
<g id="c78"><circle class="n f" cx="394" cy="1140" r="3.2"/></g>
<g id="c79"><circle class="n c" cx="352" cy="1070" r="3.2"/></g>
<g id="c80"><circle class="n u" cx="377" cy="1089" r="4"/></g>
<g id="c81"><circle class="n u" cx="346" cy="1098.3" r="4"/></g>
<g id="c82"><circle class="n c" cx="368.7" cy="1118.3" r="3.2"/></g>
<g id="c83"><circle class="n f" cx="340.3" cy="1129.7" r="3.2"/></g>
<g id="c84"><circle class="n u" cx="65" cy="1138" r="5"/></g>
<g id="c85"><circle class="n f" cx="94" cy="1153" r="3.2"/></g>
<g id="c86"><circle class="n g" cx="67.7" cy="1167.3" r="3.2"/></g>
<g id="c87"><circle class="n c" cx="121" cy="1138.3" r="3.2"/></g>
<g id="c88"><circle class="n u" cx="148.3" cy="1156.7" r="4"/></g>
<g id="c89"><circle class="n c" cx="175" cy="1141" r="3.2"/></g>
<g id="c90"><circle class="n u" cx="202" cy="1129.7" r="4"/></g>
<g id="c91"><circle class="n u" cx="122.3" cy="1168.7" r="5"/></g>
<g id="c92"><circle class="n f" cx="98" cy="1182.7" r="3.2"/></g>
<g id="c93"><circle class="n f" cx="145" cy="1188" r="3.2"/></g>
<g id="c94"><circle class="n c" cx="172.7" cy="1173.7" r="3.2"/></g>
<g id="c95"><circle class="n u" cx="198.7" cy="1190.7" r="4"/></g>
<g id="c96"><circle class="n u" cx="75" cy="1197" r="5"/></g>
<g id="c97"><circle class="n c" cx="91" cy="1219.7" r="3.2"/></g>
<g id="c98"><circle class="n g" cx="118.3" cy="1203.3" r="3.2"/></g>
<g id="c99"><circle class="n c" cx="123.3" cy="1232" r="5"/></g>
<g id="c100"><circle class="n g" cx="100.7" cy="1246" r="3.2"/></g>
<g id="c101"><circle class="n u" cx="172.3" cy="1204" r="4"/></g>
<g id="c102"><circle class="n c" cx="148" cy="1218.3" r="4"/></g>
<g id="c103"><circle class="n f" cx="171.3" cy="1236.3" r="3.2"/></g>
<g id="c104"><circle class="n u" cx="147.3" cy="1252.7" r="4"/></g>
<g id="c105"><circle class="n g" cx="122" cy="1267" r="3.2"/></g>
<g id="c106"><circle class="n g" cx="171.3" cy="1270.7" r="3.2"/></g>
<g id="c107"><circle class="n g" cx="143.3" cy="1286" r="3.2"/></g>
<g id="c108"><circle class="n f" cx="167.7" cy="1299.7" r="7"/></g>
<g id="c109"><circle class="n g" cx="193.3" cy="1313.3" r="3.2"/></g>
<g id="c110"><circle class="n f" cx="228" cy="1148.3" r="3.2"/></g>
<g id="c111"><circle class="n c" cx="258" cy="1134.3" r="3.2"/></g>
<g id="c112"><circle class="n f" cx="281.7" cy="1151.7" r="9"/></g>
<g id="c113"><circle class="n c" cx="310.7" cy="1139" r="3.2"/></g>
<g id="c114"><circle class="n c" cx="305.7" cy="1169.3" r="3.2"/></g>
<g id="c115"><circle class="n c" cx="278.7" cy="1182.3" r="3.2"/></g>
<g id="c116"><circle class="n c" cx="199.7" cy="1160" r="3.2"/></g>
<g id="c117"><circle class="n f" cx="226" cy="1177.7" r="4"/></g>
<g id="c118"><circle class="n u" cx="253" cy="1165.7" r="6"/></g>
<g id="c119"><circle class="n c" cx="252" cy="1196" r="6"/></g>
<g id="c120"><circle class="n f" cx="224.7" cy="1208" r="3.2"/></g>
<g id="c121"><circle class="n f" cx="249.3" cy="1228.3" r="3.2"/></g>
<g id="c122"><circle class="n f" cx="276" cy="1213.7" r="4"/></g>
<g id="c123"><circle class="n g" cx="302.7" cy="1201.7" r="4"/></g>
<g id="c124"><circle class="n u" cx="302" cy="1232.7" r="4"/></g>
<g id="c125"><circle class="n f" cx="303" cy="1261.7" r="3.2"/></g>
<g id="c126"><circle class="n f" cx="197.3" cy="1222.3" r="3.2"/></g>
<g id="c127"><circle class="n u" cx="222.7" cy="1239" r="4"/></g>
<g id="c128"><circle class="n c" cx="195.3" cy="1253.7" r="4"/></g>
<g id="c129"><circle class="n u" cx="221" cy="1268.7" r="5"/></g>
<g id="c130"><circle class="n f" cx="198.7" cy="1286.3" r="3.2"/></g>
<g id="c131"><circle class="n c" cx="232" cy="1293.3" r="3.2"/></g>
<g id="c132"><circle class="n g" cx="274.3" cy="1244" r="3.2"/></g>
<g id="c133"><circle class="n g" cx="248.7" cy="1261.7" r="4"/></g>
<g id="c134"><circle class="n u" cx="275.3" cy="1273" r="4"/></g>
<g id="c135"><circle class="n c" cx="260.7" cy="1296.3" r="3.2"/></g>
<g id="c136"><circle class="n c" cx="296.3" cy="1292.7" r="3.2"/></g>
<g id="c137"><circle class="n u" cx="278.3" cy="1320" r="7"/></g>
<g id="c138"><circle class="n c" cx="306.7" cy="1318" r="4"/></g>
<g id="c139"><circle class="n c" cx="221.3" cy="1319.3" r="3.2"/></g>
<g id="c140"><circle class="n c" cx="249.7" cy="1324" r="3.2"/></g>
<g id="c141"><circle class="n f" cx="334" cy="1307" r="3.2"/></g>
<g id="c142"><circle class="n c" cx="335" cy="1158.3" r="6"/></g>
<g id="c143"><circle class="n c" cx="365.7" cy="1148.3" r="3.2"/></g>
<g id="c144"><circle class="n c" cx="360.7" cy="1175.7" r="3.2"/></g>
<g id="c145"><circle class="n c" cx="329.3" cy="1187.3" r="3.2"/></g>
<g id="c146"><circle class="n f" cx="353.7" cy="1203.3" r="6"/></g>
<g id="c147"><circle class="n f" cx="328.7" cy="1220" r="3.2"/></g>
<g id="c148"><circle class="n f" cx="422" cy="1134" r="4"/></g>
<g id="c149"><circle class="n f" cx="449" cy="1142.7" r="4"/></g>
<g id="c150"><circle class="n u" cx="418.3" cy="1164" r="8"/></g>
<g id="c151"><circle class="n f" cx="391" cy="1170.3" r="4"/></g>
<g id="c152"><circle class="n g" cx="444.3" cy="1171" r="3.5"/></g>
<g id="c153"><circle class="n f" cx="437.7" cy="1198.7" r="4"/></g>
<g id="c154"><circle class="n u" cx="410.3" cy="1195.7" r="5"/></g>
<g id="c155"><circle class="n f" cx="381.7" cy="1200.3" r="3.2"/></g>
<g id="c156"><circle class="n f" cx="424" cy="1225.7" r="3.2"/></g>
<g id="c157"><circle class="n c" cx="394.3" cy="1224.3" r="3.2"/></g>
<g id="c158"><circle class="n u" cx="408.3" cy="1252.3" r="4"/></g>
<g id="c159"><circle class="n g" cx="358" cy="1231.7" r="3.2"/></g>
<g id="c160"><circle class="n u" cx="378.3" cy="1249" r="4"/></g>
<g id="c161"><circle class="n u" cx="330.7" cy="1249" r="5"/></g>
<g id="c162"><circle class="n f" cx="353.7" cy="1265.3" r="3.2"/></g>
<g id="c163"><circle class="n f" cx="326.7" cy="1280.3" r="3.2"/></g>
<g id="c164"><circle class="n u" cx="384.3" cy="1276.7" r="4"/></g>
<g id="c165"><circle class="n g" cx="359.7" cy="1294" r="3.2"/></g>
</g>
<g id="legend">
<rect x="497" y="1225" width="13" height="13" fill="#F2497B"/>
<text class="lt" x="522" y="1237">Family</text>
<rect x="497" y="1258" width="13" height="13" fill="#52DDF5"/>
<text class="lt" x="522" y="1270">Community life</text>
<rect x="497" y="1292" width="13" height="13" fill="#8CC63F"/>
<text class="lt" x="522" y="1304">Colleague or friend</text>
<rect x="497" y="1325" width="13" height="13" fill="#AAAAAA"/>
<text class="lt" x="522" y="1337">Unknown</text>
</g>
</svg>
